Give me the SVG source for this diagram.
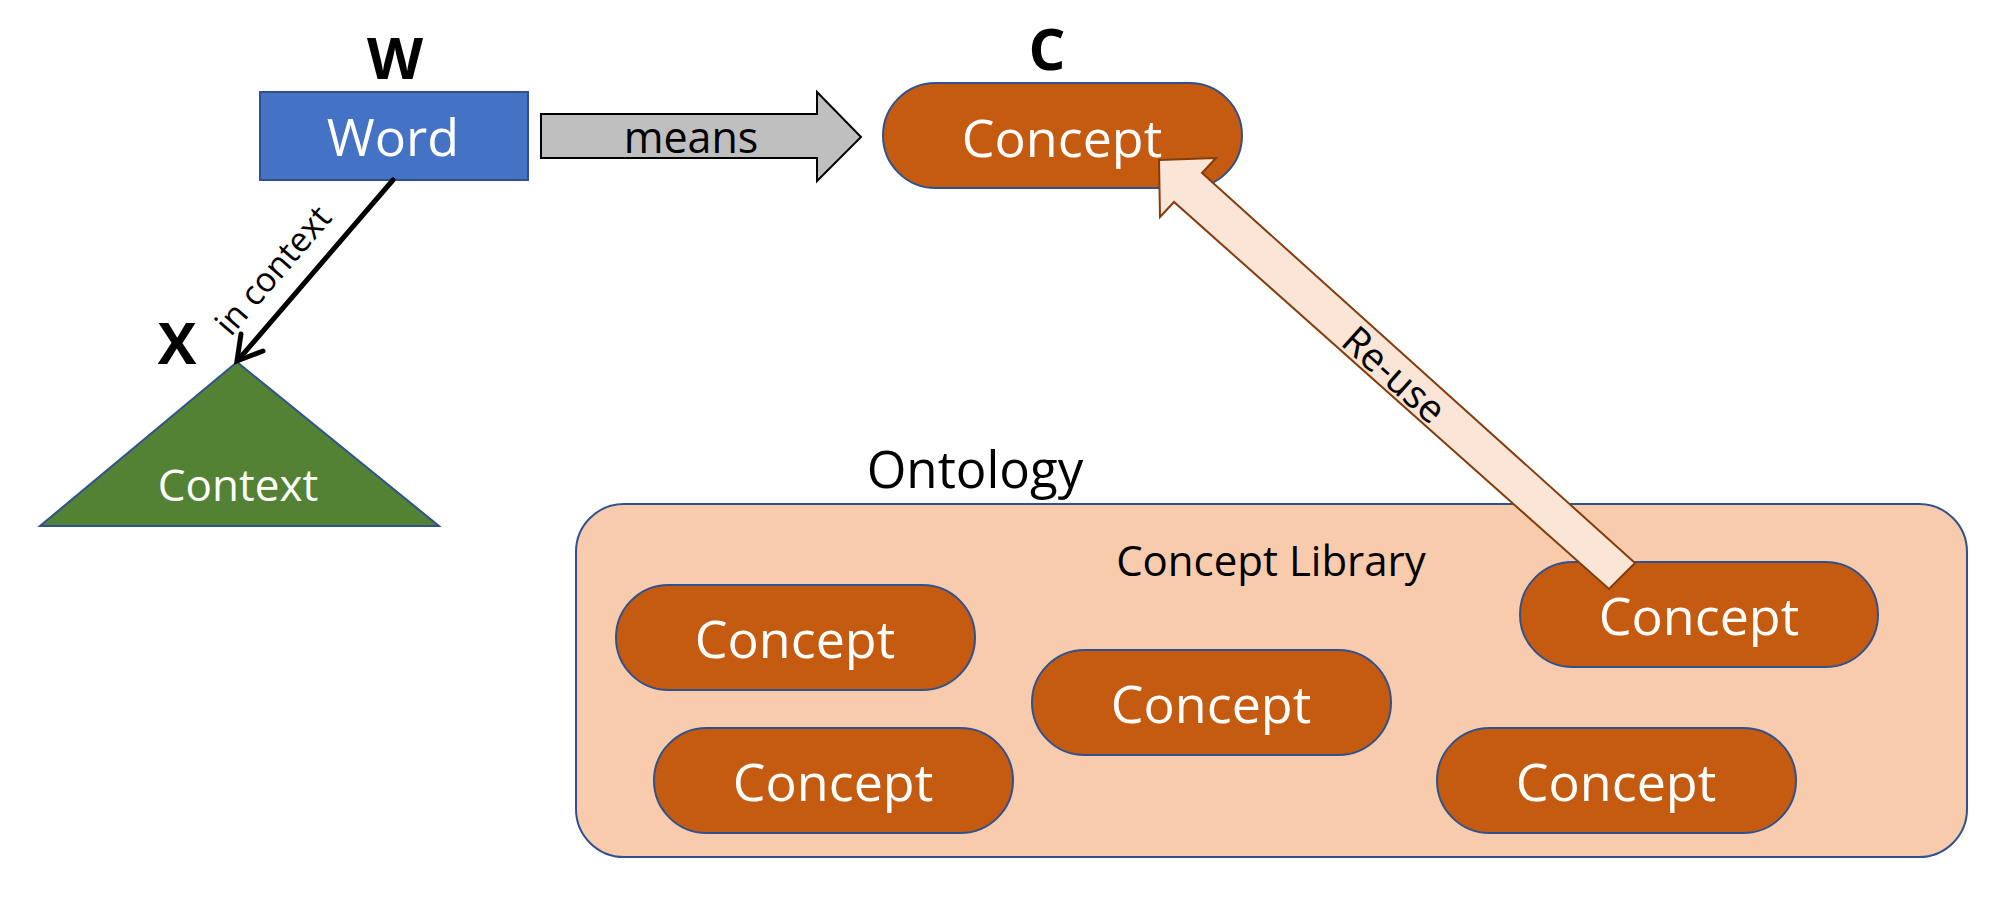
<svg xmlns="http://www.w3.org/2000/svg" width="2013" height="902" viewBox="0 0 2013 902">
<style>
text{font-family:"Open Sans","Liberation Sans",sans-serif;}
.lbl{font-size:58px;font-weight:bold;fill:#000;text-anchor:middle;}
.concept{fill:#C55A11;stroke:#2F528F;stroke-width:2;}
.ctext{font-size:52px;fill:#fff;text-anchor:middle;}
.dark{fill:#000;text-anchor:middle;}
</style>
<rect width="2013" height="902" fill="#fff"/>

<g id="ontology">
<rect x="576" y="504" width="1391" height="353" rx="48" ry="48" fill="#F8CBAD" stroke="#2F528F" stroke-width="2"/>
<text class="dark" x="975" y="488" font-size="51">Ontology</text>
<text class="dark" x="1271" y="576" font-size="42">Concept Library</text>
</g>

<g id="word">
<text class="lbl" x="395" y="79">W</text>
<rect x="260" y="92" width="268" height="88" fill="#4472C4" stroke="#2F528F" stroke-width="2"/>
<text class="ctext" x="393" y="156">Word</text>
</g>

<g id="concept-main">
<text class="lbl" x="1047" y="70">C</text>
<rect class="concept" x="883" y="83" width="359" height="105" rx="52.5" ry="52.5"/>
<text class="ctext" x="1062" y="157">Concept</text>
</g>

<g id="context">
<text class="lbl" x="177" y="364">X</text>
<polygon points="237,362 439,526 40,526" fill="#548235" stroke="#2F528F" stroke-width="2"/>
<text class="ctext" x="238" y="501" style="font-size:44px">Context</text>
</g>

<g id="concept1">
<rect class="concept" x="616" y="585" width="359" height="105" rx="52.5" ry="52.5"/>
<text class="ctext" x="795" y="658">Concept</text>
</g>
<g id="concept2">
<rect class="concept" x="654" y="728" width="359" height="105" rx="52.5" ry="52.5"/>
<text class="ctext" x="833" y="801">Concept</text>
</g>
<g id="concept3">
<rect class="concept" x="1032" y="650" width="359" height="105" rx="52.5" ry="52.5"/>
<text class="ctext" x="1211" y="723">Concept</text>
</g>
<g id="concept4">
<rect class="concept" x="1520" y="562" width="358" height="105" rx="52.5" ry="52.5"/>
<text class="ctext" x="1699" y="635">Concept</text>
</g>
<g id="concept5">
<rect class="concept" x="1437" y="728" width="359" height="105" rx="52.5" ry="52.5"/>
<text class="ctext" x="1616" y="801">Concept</text>
</g>

<g id="connectors">
<g id="means">
<polygon points="541,114 817,114 817,92 861,137 817,181 817,158 541,158" fill="#BFBFBF" stroke="#000" stroke-width="2"/>
<text class="dark" x="691" y="153" font-size="43">means</text>
</g>
<g id="in-context">
<line x1="393" y1="180" x2="239" y2="359" stroke="#000" stroke-width="5" stroke-linecap="round"/>
<polyline points="241,334 237,361 263,351" fill="none" stroke="#000" stroke-width="5" stroke-linecap="round" stroke-linejoin="miter"/>
<text class="dark" x="0" y="0" font-size="34" transform="translate(282,278) rotate(-49.2)">in context</text>
</g>
<g id="re-use">
<polygon points="1159,160 1216,158 1202,173 1635,563 1609,589 1174,202 1160,217" fill="#FBE5D6" stroke="#843C0C" stroke-width="2" stroke-linejoin="miter"/>
<text class="dark" x="0" y="0" font-size="39" transform="translate(1385,385) rotate(41.8)">Re-use</text>
</g>
</g>
</svg>
